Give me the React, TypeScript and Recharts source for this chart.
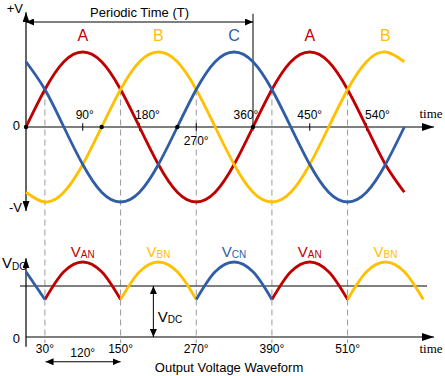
import React from 'react';
import { ComposedChart, Line, XAxis, YAxis, ReferenceLine, ReferenceDot } from 'recharts';

// electrical angle (degrees) of each sample
const angles = [0, 30, 60, 90, 120, 150, 180, 210, 240, 270, 300, 330, 360, 390, 420, 450, 480, 510, 540, 570, 600, 630];

// phase voltages, as a fraction of the peak (+V)
const phaseA = [0, 0.5, 0.87, 1, 0.87, 0.5, 0, -0.5, -0.87, -1, -0.87, -0.5, 0, 0.5, 0.87, 1, 0.87, 0.5, 0, -0.5, -0.87, null];
const phaseB = [-0.87, -1, -0.87, -0.5, 0, 0.5, 0.87, 1, 0.87, 0.5, 0, -0.5, -0.87, -1, -0.87, -0.5, 0, 0.5, 0.87, 1, 0.87, null];
const phaseC = [0.87, 0.5, 0, -0.5, -0.87, -1, -0.87, -0.5, 0, 0.5, 0.87, 1, 0.87, 0.5, 0, -0.5, -0.87, -1, -0.87, -0.5, 0, null];

// rectified output, split by the phase that conducts
const outA = [null, 0.5, 0.87, 1, 0.87, 0.5, null, null, null, null, null, null, null, 0.5, 0.87, 1, 0.87, 0.5, null, null, null, null];
const outB = [null, null, null, null, null, 0.5, 0.87, 1, 0.87, 0.5, null, null, null, null, null, null, null, 0.5, 0.87, 1, 0.87, 0.5];
const outC = [0.87, 0.5, null, null, null, null, null, null, null, 0.5, 0.87, 1, 0.87, 0.5, null, null, null, null, null, null, null, null];

const dcLevel = 0.68;

const topTicks = [90, 180, 270, 360, 450, 540];
const topTickLabels = ['90°', '180°', '270°', '360°', '450°', '540°'];
const zeroDots = [0, 120, 240, 360];
const crossAngles = [30, 150, 270, 390, 510];
const crossLabels = ['30°', '150°', '270°', '390°', '510°'];
const peakAngles = [90, 210, 330, 450, 570];
const peakPhases = ['A', 'B', 'C', 'A', 'B'];
const outputSubs = ['AN', 'BN', 'CN', 'AN', 'BN'];

const rows = angles.map((angle, i) => ({
  angle,
  A: phaseA[i],
  B: phaseB[i],
  C: phaseC[i],
  outA: outA[i],
  outB: outB[i],
  outC: outC[i],
}));

const RED = '#C00000';
const YELLOW = '#FFC000';
const BLUE = '#2F5DA6';
const phaseColor: Record<string, string> = { A: RED, B: YELLOW, C: BLUE };

const SANS = '"Liberation Sans", Arial, sans-serif';
const SERIF = '"Liberation Serif", "Times New Roman", serif';

// layout
const W = 445;
const H = 376;
const K = 227 / 360; // px per degree
const X0 = 26; // pixel of 0 degrees
const X_MIN = -15;
const X_MAX = 650;
const UNIT = 75; // px per unit of V
const TOP_ZERO = 127;
const BOT_ZERO = 337;
const PLOT_TOP = 2;
const PLOT_BOTTOM = 376;
const topDomain = [(TOP_ZERO - PLOT_BOTTOM) / UNIT, (TOP_ZERO - PLOT_TOP) / UNIT];
const botDomain = [(BOT_ZERO - PLOT_BOTTOM) / UNIT, (BOT_ZERO - PLOT_TOP) / UNIT];

type TextOpts = { dx?: number; anchor?: string; size?: number; fill?: string; family?: string; sub?: string };

const textDot = (key: string, x: number, y: number, axis: string, content: string, o: TextOpts = {}) => (
  <ReferenceDot
    key={key}
    x={x}
    y={y}
    yAxisId={axis}
    r={0}
    ifOverflow="visible"
    isFront
    shape={(p: any) => (
      <text
        x={p.cx + (o.dx || 0)}
        y={p.cy}
        textAnchor={o.anchor || 'middle'}
        fontSize={o.size || 12}
        fill={o.fill || '#000'}
        fontFamily={o.family || SANS}
      >
        <tspan>{content}</tspan>
        {o.sub && (
          <tspan fontSize={10} dy={1.5}>
            {o.sub}
          </tspan>
        )}
      </text>
    )}
  />
);

const tickNudge: Record<number, number> = { 90: 2, 180: 8, 270: 0, 360: -7, 450: 0, 540: 11 };

export default function App() {
  return (
    <div style={{ position: 'absolute', left: 0, top: 0, width: W, height: H, background: '#fff' }}>
      <ComposedChart
        width={W}
        height={H}
        data={rows}
        margin={{ top: PLOT_TOP, bottom: H - PLOT_BOTTOM, left: X0 + X_MIN * K, right: W - X0 - X_MAX * K }}
      >
        <defs>
          <marker id="arrowBig" viewBox="0 0 12 8" markerUnits="userSpaceOnUse" markerWidth={12} markerHeight={8} refX={12} refY={4} orient="auto-start-reverse">
            <path d="M0,0 L12,4 L0,8 z" fill="#000" />
          </marker>
          <marker id="arrowMid" viewBox="0 0 10 7" markerUnits="userSpaceOnUse" markerWidth={10} markerHeight={7} refX={10} refY={3.5} orient="auto-start-reverse">
            <path d="M0,0 L10,3.5 L0,7 z" fill="#000" />
          </marker>
          <marker id="arrowSmall" viewBox="0 0 8 7" markerUnits="userSpaceOnUse" markerWidth={8} markerHeight={7} refX={8} refY={3.5} orient="auto-start-reverse">
            <path d="M0,0 L8,3.5 L0,7 z" fill="#000" />
          </marker>
        </defs>
        <XAxis dataKey="angle" type="number" domain={[X_MIN, X_MAX]} allowDataOverflow hide />
        <YAxis yAxisId="top" type="number" domain={topDomain} allowDataOverflow hide />
        <YAxis yAxisId="bot" type="number" domain={botDomain} allowDataOverflow hide />

        {/* dashed guides at the crossing points */}
        {crossAngles.map((a) => (
          <ReferenceLine
            key={`g${a}`}
            yAxisId="top"
            segment={[{ x: a, y: 0.5 }, { x: a, y: -2.88 }]}
            stroke="#9a9a9a"
            strokeDasharray="6 4"
            strokeWidth={1}
          />
        ))}

        {/* top axes */}
        <ReferenceLine yAxisId="top" segment={[{ x: 0, y: 0 }, { x: 647, y: 0 }]} stroke="#000" strokeWidth={1.2} markerEnd="url(#arrowBig)" />
        <ReferenceLine
          yAxisId="top"
          segment={[{ x: 0, y: -1.12 }, { x: 0, y: 1.53 }]}
          stroke="#000"
          strokeWidth={1.2}
          markerEnd="url(#arrowMid)"
          markerStart="url(#arrowMid)"
        />
        {topTicks.map((a) => (
          <ReferenceLine key={`t${a}`} yAxisId="top" segment={[{ x: a, y: 0.05 }, { x: a, y: -0.05 }]} stroke="#000" strokeWidth={1} />
        ))}

        {/* periodic time */}
        <ReferenceLine
          yAxisId="top"
          segment={[{ x: 0, y: 1.4 }, { x: 360, y: 1.4 }]}
          stroke="#000"
          strokeWidth={1}
          markerEnd="url(#arrowSmall)"
          markerStart="url(#arrowSmall)"
        />
        <ReferenceLine yAxisId="top" segment={[{ x: 360, y: 1.51 }, { x: 360, y: 0 }]} stroke="#000" strokeWidth={1} />

        {/* bottom axes */}
        <ReferenceLine yAxisId="bot" segment={[{ x: 0, y: 0 }, { x: 647, y: 0 }]} stroke="#000" strokeWidth={1.2} markerEnd="url(#arrowBig)" />
        <ReferenceLine yAxisId="bot" segment={[{ x: 0, y: -0.13 }, { x: 0, y: 1.05 }]} stroke="#000" strokeWidth={1.2} markerEnd="url(#arrowMid)" />
        <ReferenceLine yAxisId="bot" segment={[{ x: -9.5, y: dcLevel }, { x: 636, y: dcLevel }]} stroke="#000" strokeWidth={1} />
        <ReferenceLine
          yAxisId="bot"
          segment={[{ x: 202, y: dcLevel }, { x: 202, y: 0 }]}
          stroke="#000"
          strokeWidth={1}
          markerEnd="url(#arrowSmall)"
          markerStart="url(#arrowSmall)"
        />
        <ReferenceLine
          yAxisId="bot"
          segment={[{ x: 31, y: -0.33 }, { x: 150, y: -0.33 }]}
          stroke="#000"
          strokeWidth={1}
          markerEnd="url(#arrowSmall)"
          markerStart="url(#arrowSmall)"
        />

        {/* phase waves */}
        <Line yAxisId="top" dataKey="A" type="natural" stroke={RED} strokeWidth={2.8} dot={false} activeDot={false} isAnimationActive={false} />
        <Line yAxisId="top" dataKey="B" type="natural" stroke={YELLOW} strokeWidth={2.8} dot={false} activeDot={false} isAnimationActive={false} />
        <Line yAxisId="top" dataKey="C" type="natural" stroke={BLUE} strokeWidth={2.8} dot={false} activeDot={false} isAnimationActive={false} />

        {/* rectified output */}
        <Line yAxisId="bot" dataKey="outA" type="monotone" stroke={RED} strokeWidth={2.8} dot={false} activeDot={false} isAnimationActive={false} />
        <Line yAxisId="bot" dataKey="outB" type="monotone" stroke={YELLOW} strokeWidth={2.8} dot={false} activeDot={false} isAnimationActive={false} />
        <Line yAxisId="bot" dataKey="outC" type="monotone" stroke={BLUE} strokeWidth={2.8} dot={false} activeDot={false} isAnimationActive={false} />

        {zeroDots.map((a) => (
          <ReferenceDot key={`d${a}`} yAxisId="top" x={a} y={0} r={2.2} fill="#000" stroke="none" isFront />
        ))}

        {/* top labels */}
        {textDot('pv', 0, 1.52, 'top', '+V', { dx: -3, anchor: 'end', size: 13 })}
        {textDot('z1', 0, -0.04, 'top', '0', { dx: -6, anchor: 'end', size: 13 })}
        {textDot('mv', 0, -1.133, 'top', '-V', { dx: -4, anchor: 'end', size: 13 })}
        {textDot('pt', 180, 1.473, 'top', 'Periodic Time (T)', { size: 13 })}
        {textDot('tm1', 624, 0.12, 'top', 'time', { anchor: 'start', size: 13, family: SERIF })}
        {topTicks.map((a, i) =>
          textDot(`tl${a}`, a, a === 270 ? -0.24 : 0.107, 'top', topTickLabels[i], { dx: tickNudge[a], size: 12 })
        )}
        {peakAngles.map((a, i) =>
          textDot(`pl${i}`, a, 1.15, 'top', peakPhases[i], { size: 16, fill: phaseColor[peakPhases[i]] })
        )}

        {/* bottom labels */}
        {textDot('vdc1', 0, 0.92, 'bot', 'V', { dx: -24, anchor: 'start', size: 15, sub: 'DC' })}
        {textDot('z2', 0, -0.08, 'bot', '0', { dx: -6, anchor: 'end', size: 13 })}
        {textDot('vdc2', 209, 0.204, 'bot', 'V', { anchor: 'start', size: 15, sub: 'DC' })}
        {crossAngles.map((a, i) => textDot(`cl${a}`, a, -0.213, 'bot', crossLabels[i], { size: 12 }))}
        {textDot('tm2', 624, -0.213, 'bot', 'time', { anchor: 'start', size: 13, family: SERIF })}
        {textDot('d120', 90, -0.273, 'bot', '120°', { size: 12 })}
        {textDot('ovw', 322, -0.46, 'bot', 'Output Voltage Waveform', { size: 13 })}
        {peakAngles.map((a, i) =>
          textDot(`ol${i}`, a, 1.067, 'bot', 'V', { size: 15, fill: phaseColor[peakPhases[i]], sub: outputSubs[i] })
        )}
      </ComposedChart>
    </div>
  );
}
